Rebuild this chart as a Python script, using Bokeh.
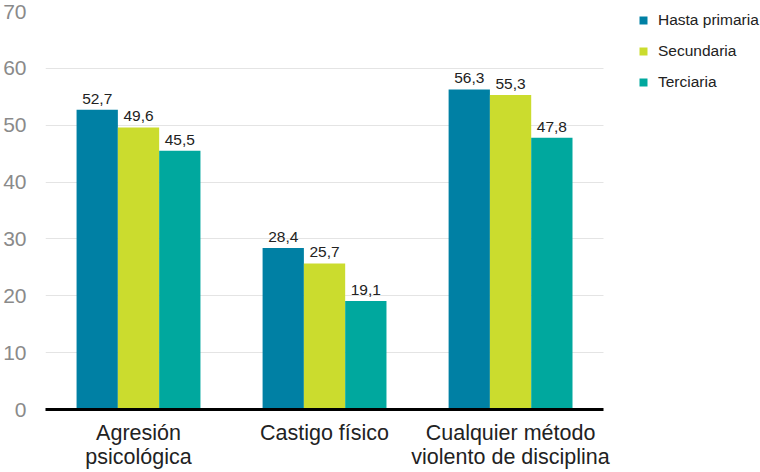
from bokeh.plotting import figure
from bokeh.models import ColumnDataSource, Range1d, Legend, LegendItem, FixedTicker
from bokeh.core.properties import value
from bokeh.embed import file_html
from bokeh.resources import INLINE

categories = ["Agresión\npsicológica", "Castigo físico", "Cualquier método\nviolento de disciplina"]
series = ["Hasta primaria", "Secundaria", "Terciaria"]
hasta_primaria = [52.7, 28.4, 56.3]
secundaria = [49.6, 25.7, 55.3]
terciaria = [45.5, 19.1, 47.8]
colors = ["#0080A4", "#CBDC2E", "#00A89E"]
y_ticks = [0, 10, 20, 30, 40, 50, 60, 70]

FONT = "Liberation Sans"

def fmt(v):
    return f"{v:.1f}".replace(".", ",")

n = len(categories)
cat_x = [i + 0.5 for i in range(n)]
w = 0.222
offsets = [-w, 0, w]

p = figure(x_range=Range1d(0, 3.849), y_range=Range1d(0, 70),
           frame_width=716, frame_height=398, output_backend="svg", toolbar_location=None,
           min_border_left=36, min_border_top=11, min_border_bottom=0, min_border_right=0)
p.outline_line_color = None

items = []
for name, vals, col, off in zip(series, [hasta_primaria, secundaria, terciaria], colors, offsets):
    src = ColumnDataSource(dict(x=[c + off for c in cat_x], top=vals, lbl=[fmt(v) for v in vals]))
    r = p.vbar(x="x", top="top", width=w, source=src, fill_color=col, line_color=None)
    p.text(x="x", y="top", text="lbl", source=src,
           text_align="center", text_baseline="alphabetic", y_offset=-11,
           text_font=value(FONT), text_font_size="15.5px", text_color="#222222")
    items.append(LegendItem(label=name, renderers=[r]))

legend = Legend(items=items, location=(593, 317), margin=0, padding=0,
                glyph_width=10, glyph_height=10, label_height=20, spacing=11,
                label_standoff=10, label_text_font=FONT, label_text_font_size="15.5px",
                label_text_color="#222222", border_line_color=None, background_fill_alpha=0)
p.add_layout(legend, "center")

p.xgrid.grid_line_color = None
p.ygrid.ticker = FixedTicker(ticks=y_ticks)
p.ygrid.grid_line_color = "#e4e4e4"
p.ygrid.grid_line_width = 1
p.ygrid.cross_bounds = (0, n)

p.yaxis.ticker = FixedTicker(ticks=y_ticks)
p.yaxis.axis_line_color = None
p.yaxis.major_tick_line_color = None
p.yaxis.minor_tick_line_color = None
p.yaxis.major_label_text_font = FONT
p.yaxis.major_label_text_font_size = "21px"
p.yaxis.major_label_text_color = "#8a8a8a"
p.yaxis.major_label_standoff = 13

p.xaxis.ticker = FixedTicker(ticks=cat_x)
p.xaxis.major_label_overrides = {c: lab for c, lab in zip(cat_x, categories)}
p.xaxis.bounds = (0, n)
p.xaxis.axis_line_color = "black"
p.xaxis.axis_line_width = 3
p.xaxis.major_tick_line_color = None
p.xaxis.minor_tick_line_color = None
p.xaxis.major_label_text_font = FONT
p.xaxis.major_label_text_font_size = "21.5px"
p.xaxis.major_label_text_color = "#222222"
p.xaxis.major_label_text_line_height = 1.0
p.xaxis.major_label_standoff = 5

open("out.html", "w").write(file_html(p, INLINE))
